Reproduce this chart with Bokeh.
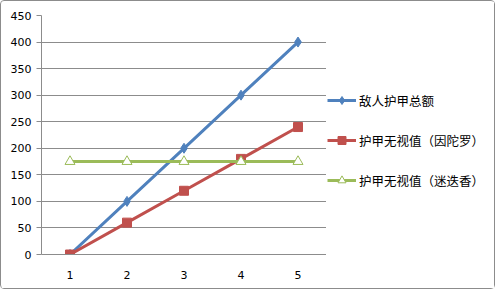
from bokeh.plotting import figure
from bokeh.layouts import row
from bokeh.models import Range1d, Legend, LegendItem, FixedTicker
from bokeh.embed import file_html
from bokeh.resources import INLINE

categories = [1, 2, 3, 4, 5]
enemy_armor = [0, 100, 200, 300, 400]
ignore_indra = [0, 60, 120, 180, 240]
ignore_rosemary = [175, 175, 175, 175, 175]
y_ticks = [0, 50, 100, 150, 200, 250, 300, 350, 400, 450]
names = ["敌人护甲总额", "护甲无视值（因陀罗）", "护甲无视值（迷迭香）"]

blue = "#4F81BD"
red = "#C0504D"
green = "#9BBB59"

p = figure(width=325, height=287, output_backend="svg", toolbar_location=None,
           x_range=Range1d(0.5, 5.5), y_range=Range1d(0, 450),
           min_border_left=40, min_border_right=0, min_border_top=14, min_border_bottom=34)
p.outline_line_color = None
p.background_fill_color = "white"
p.xgrid.grid_line_color = None
p.ygrid.grid_line_color = "#8c8c8c"
p.ygrid.grid_line_width = 1

p.xaxis.ticker = FixedTicker(ticks=categories)
p.yaxis.ticker = FixedTicker(ticks=y_ticks)
for ax in (p.xaxis, p.yaxis):
    ax.axis_line_color = "#8c8c8c"
    ax.major_tick_line_color = "#8c8c8c"
    ax.minor_tick_line_color = None
    ax.major_label_text_font = "DejaVu Sans"
    ax.major_label_text_font_size = "11px"
    ax.major_label_text_color = "#000000"
p.xaxis.major_tick_line_color = None
p.xaxis.major_label_standoff = 10
p.yaxis.major_tick_out = 5
p.yaxis.major_tick_in = 0
p.yaxis.major_label_standoff = 5


def draw(fig):
    r = []
    r.append(fig.line(categories, enemy_armor, line_color=blue, line_width=3))
    r.append(fig.scatter(categories, enemy_armor, marker="diamond", size=10, fill_color=blue, line_color=blue))
    r.append(fig.line(categories, ignore_indra, line_color=red, line_width=3))
    r.append(fig.scatter(categories, ignore_indra, marker="square", size=9, fill_color=red, line_color=red))
    r.append(fig.line(categories, ignore_rosemary, line_color=green, line_width=3))
    r.append(fig.scatter(categories, ignore_rosemary, marker="triangle", size=10, fill_color="white",
                         line_color=green, line_width=1))
    return r


draw(p)

# legend panel (its renderers hold data outside the visible range; only the legend shows)
q = figure(width=168, height=287, output_backend="svg", toolbar_location=None,
           x_range=Range1d(100, 101), y_range=Range1d(100, 101),
           min_border_left=0, min_border_right=0, min_border_top=0, min_border_bottom=0)
q.axis.visible = False
q.grid.visible = False
q.outline_line_color = None
rs = draw(q)

legend = Legend(items=[LegendItem(label=names[0], renderers=rs[0:2]),
                       LegendItem(label=names[1], renderers=rs[2:4]),
                       LegendItem(label=names[2], renderers=rs[4:6])],
                location=(1, 64), padding=0, margin=0, spacing=20,
                glyph_width=29, glyph_height=20, label_standoff=3,
                label_text_font="Noto Sans CJK SC", label_text_font_size="12.5px",
                label_text_color="#000000", background_fill_alpha=0,
                border_line_color=None)
q.add_layout(legend)

layout = row(p, q, spacing=0)
layout.styles = {"border": "1px solid #8c8c8c", "border-radius": "4px"}

open("out.html", "w").write(file_html(layout, INLINE))
